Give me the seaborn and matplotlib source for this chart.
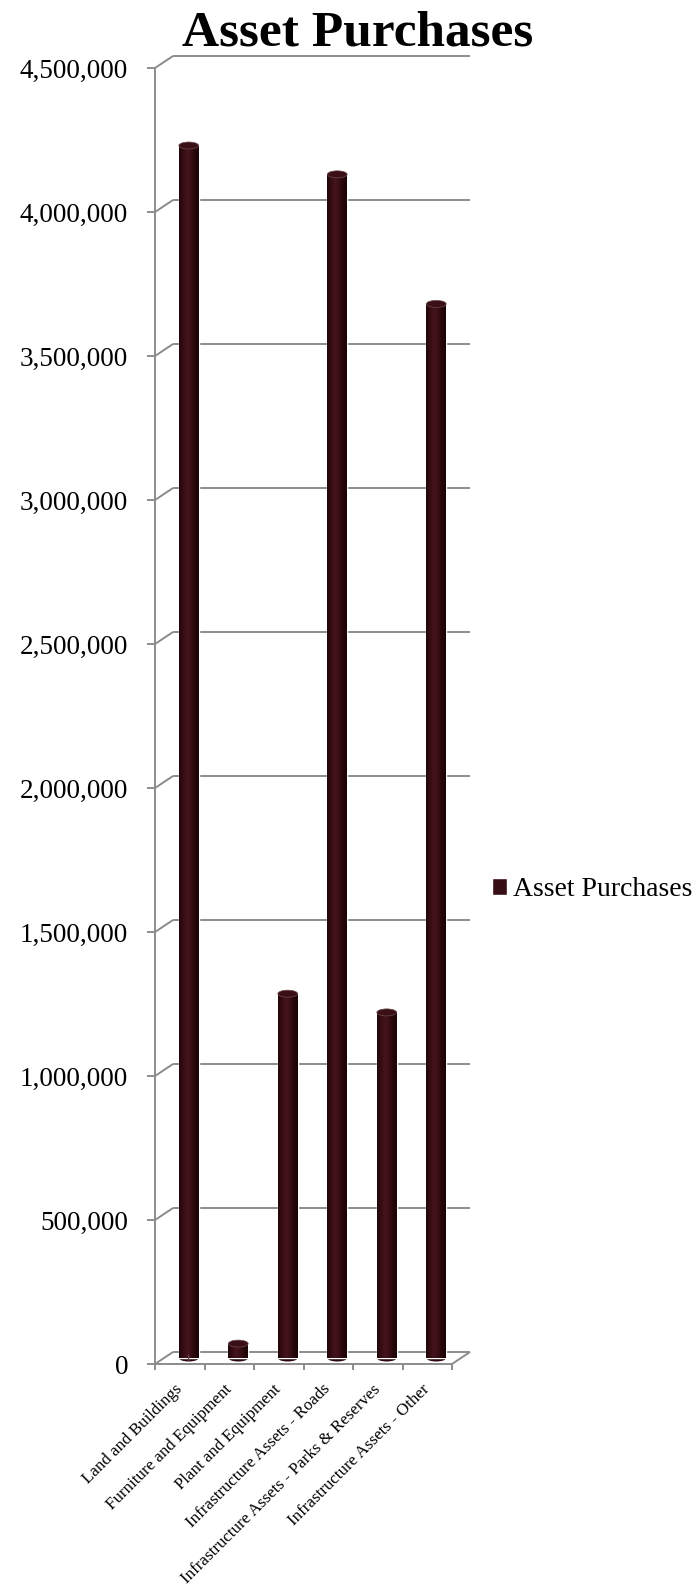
import numpy as np
import pandas as pd
import matplotlib
matplotlib.use("Agg")
import matplotlib.pyplot as plt
import seaborn as sns
from matplotlib.transforms import offset_copy
from matplotlib.patches import Ellipse
from matplotlib.colors import LinearSegmentedColormap

# ---------------- data ----------------
categories = [
    "Land and Buildings",
    "Furniture and Equipment",
    "Plant and Equipment",
    "Infrastructure Assets - Roads",
    "Infrastructure Assets - Parks & Reserves",
    "Infrastructure Assets - Other",
]
values = [4210000, 50000, 1265000, 4110000, 1200000, 3660000]
series_name = "Asset Purchases"
yticks = [0, 500000, 1000000, 1500000, 2000000, 2500000, 3000000, 3500000, 4000000, 4500000]
ytick_labels = ["0", "500,000", "1,000,000", "1,500,000", "2,000,000", "2,500,000",
                "3,000,000", "3,500,000", "4,000,000", "4,500,000"]
title = "Asset Purchases"

# ---------------- style ----------------
bar_color = "#370d14"
grid_color = "#8c8c8c"
cyl_cmap = LinearSegmentedColormap.from_list(
    "cyl", ["#1e0508", "#360c13", "#45141d", "#3a0e15", "#260709", "#1a0406"])

sns.set_theme(style="white")
plt.rcParams["font.family"] = ["Liberation Serif", "DejaVu Serif"]
plt.rcParams["text.color"] = "black"
plt.rcParams["xtick.color"] = "black"
plt.rcParams["ytick.color"] = "black"

W, H = 700, 1585
fig = plt.figure(figsize=(W / 100, H / 100), dpi=100)
L, R, B0, T0 = 155, 452, 1364, 68
ax = fig.add_axes([L / W, 1 - B0 / H, (R - L) / W, (B0 - T0) / H])
ax.patch.set_alpha(0)

df = pd.DataFrame({"category": categories, "value": values, "series": series_name})
sns.barplot(data=df, x="category", y="value", hue="series", palette=[bar_color],
            width=0.4, saturation=1, errorbar=None, ax=ax, legend=True)

ax.set_xlim(-0.5, len(categories) - 0.5)
ax.set_ylim(yticks[0], yticks[-1])
ax.set_xlabel("")
ax.set_ylabel("")

# spines
for s in ["top", "right"]:
    ax.spines[s].set_visible(False)
for s in ["left", "bottom"]:
    ax.spines[s].set_color(grid_color)
    ax.spines[s].set_linewidth(1.4)

# y ticks
ax.set_yticks(yticks, ytick_labels)
ax.tick_params(axis="y", left=True, length=5.8, width=1.4, color=grid_color,
               pad=13.5, labelsize=19.5, labelcolor="black")
# x ticks: labels at centers, tick marks at boundaries
ax.set_xticks(range(len(categories)), categories)
ax.set_xticks(np.arange(-0.5, len(categories)), minor=True)
ax.tick_params(axis="x", which="major", bottom=True, length=0, pad=16.5,
               labelsize=12.2, labelcolor="black")
ax.tick_params(axis="x", which="minor", bottom=True, length=4.5, width=1.4, color=grid_color)
for lab in ax.get_xticklabels():
    lab.set_rotation(45)
    lab.set_ha("right")
    lab.set_va("center")
    lab.set_rotation_mode("anchor")

# pseudo-3D: back wall gridlines and depth diagonals
off_back = offset_copy(ax.transData, fig=fig, x=18, y=12, units="dots")
off_bar = offset_copy(ax.transData, fig=fig, x=9, y=6, units="dots")

ax.hlines(yticks, -0.5, len(categories) - 0.5, colors=grid_color, lw=1.4,
          transform=off_back, clip_on=False, zorder=0.5)
inv = ax.transData.inverted()
diag_pts = [(-0.5, t) for t in yticks] + [(len(categories) - 0.5, 0)]
for (xd, yd) in diag_pts:
    p0 = ax.transData.transform((xd, yd))
    p1 = inv.transform(p0 + np.array([18, 12]))
    ax.plot([xd, p1[0]], [yd, p1[1]], color=grid_color, lw=1.4, clip_on=False,
            zorder=0.5, solid_capstyle="butt")

# cylinders
ky = (ax.transData.transform((0, 1e6))[1] - ax.transData.transform((0, 0))[1]) / 1e6
ell_h = 7 / ky
bars = list(ax.patches)
for p in bars:
    p.set_transform(off_bar)
    p.set_clip_on(False)
    p.set_zorder(2)
    x0, w, h = p.get_x(), p.get_width(), p.get_height()
    im = ax.imshow(np.linspace(0, 1, 64)[None, :], extent=(x0, x0 + w, 0, h),
                   cmap=cyl_cmap, aspect="auto", interpolation="bicubic",
                   transform=off_bar, zorder=2.1)
    im.set_clip_path(p)
    ax.add_patch(Ellipse((x0 + w / 2, 0), w, ell_h, facecolor="#2a080d",
                         edgecolor="none", transform=off_bar, zorder=1.9, clip_on=False))
    ax.add_patch(Ellipse((x0 + w / 2, h), w, ell_h, facecolor="#3a0f16",
                         edgecolor="#6a4a4e", lw=0.5, transform=off_bar, zorder=2.2,
                         clip_on=False))

ax.set_xlim(-0.5, len(categories) - 0.5)
ax.set_ylim(yticks[0], yticks[-1])

# legend
handles, labels = ax.get_legend_handles_labels()
if ax.get_legend() is not None:
    ax.get_legend().remove()
leg = fig.legend(handles, labels, loc="center left", bbox_to_anchor=(492 / W, 1 - 890 / H),
                 frameon=False, fontsize=20, handlelength=0.55, handleheight=0.55,
                 handletextpad=0.22, borderaxespad=0, borderpad=0)
for t in leg.get_texts():
    t.set_color("black")

fig.text(358 / W, 1 - 45.5 / H, title, ha="center", va="baseline",
         fontsize=37, fontweight="bold", color="black")

fig.savefig("out.png", dpi=100, facecolor="white")
